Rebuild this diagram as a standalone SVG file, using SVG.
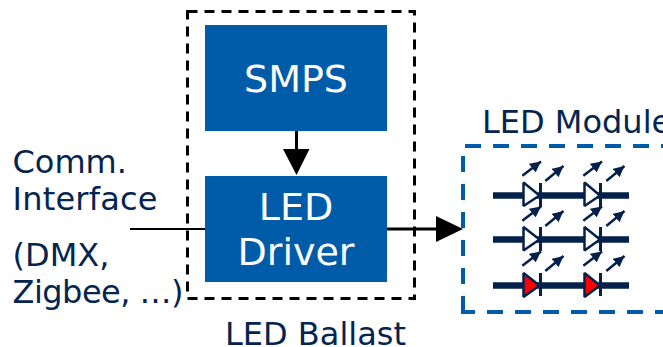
<svg xmlns="http://www.w3.org/2000/svg" width="663" height="347" viewBox="0 0 663 347">
<style>
text{font-family:"DejaVu Sans",Verdana,sans-serif}
.lbl{fill:#04254f;font-size:32px}
.box{fill:#005ca9}
.in{fill:#fff;font-size:38px;text-anchor:middle}
.wire{stroke:#000;fill:none}
.bus{stroke:#04214c;stroke-width:6.500;fill:none}
.bar{stroke:#04214c;stroke-width:3;fill:none}
.tri{stroke:#04214c;stroke-width:2.500;stroke-linejoin:bevel}
.ray{stroke:#04214c;stroke-width:2.500;fill:none;marker-end:url(#ah)}
.bd{fill:none;stroke:#005ca9;stroke-width:4;stroke-dasharray:16 12}
</style>
<defs>
<marker id="ah" markerUnits="userSpaceOnUse" markerWidth="14" markerHeight="14" refX="11" refY="5.500" orient="auto"><path d="M0 0L11 5.500L0 11Z" fill="#04214c"/></marker>
<g id="rays"><path class="ray" d="M522.300 175.700L541 161.500"/><path class="ray" d="M545.300 181L563.500 166"/></g>
</defs>
<g id="connectors">
<path class="wire" stroke-width="2" d="M130 229H206"/>
<path class="wire" stroke-width="3" d="M296.500 130V152"/>
<path d="M283 149H309.500L296.500 175Z"/>
<path class="wire" stroke-width="3" d="M387 229H440"/>
<path d="M436 216L463 229L436 242Z"/>
</g>
<g id="ballast"><rect x="187.500" y="11.500" width="227" height="287" fill="none" stroke="#000" stroke-width="3" stroke-dasharray="10 7"/>
<text x="225" y="344.500" class="lbl">LED Ballast</text></g>
<g id="smps"><rect class="box" x="205" y="25" width="182" height="106"/><text class="in" x="296" y="92">SMPS</text></g>
<g id="driver"><rect class="box" x="205" y="176" width="182" height="106"/><text class="in" x="296" y="220">LED</text><text class="in" x="296" y="265">Driver</text></g>
<g id="comm"><text class="lbl" x="12.500" y="173">Comm.</text><text class="lbl" x="12.500" y="210" textLength="145">Interface</text><text class="lbl" x="12.500" y="266">(DMX,</text><text class="lbl" x="12.500" y="303" textLength="171">Zigbee, …)</text></g>
<g id="module"><path class="bd" d="M465 146H680M463 156V296"/><path class="bd" style="stroke-dasharray:none" d="M463 296V312H475"/><path class="bd" d="M487 312H680"/>
<text class="lbl" x="482" y="133">LED Module</text>
<path class="bus" d="M493 195.500H629M493 239.500H629M493 285.500H629"/>
<g id="r1"><path class="tri" fill="#fff" d="M523.500 182.500L539.500 195.500L523.500 206Z"/><path class="tri" fill="#fff" d="M584.500 182.500L600 195.500L584.500 206Z"/><path class="bar" d="M540.500 183V207M600.500 183V207"/></g>
<g id="r2"><path class="tri" fill="#fff" d="M523.500 227L539.500 239.500L523.500 250.500Z"/><path class="tri" fill="#fff" d="M584.500 227L600 239.500L584.500 250.500Z"/><path class="bar" d="M540.500 227V251M600.500 227V251"/></g>
<g id="r3"><path class="tri" fill="#f00" d="M523.500 273L539.500 285.500L523.500 297Z"/><path class="tri" fill="#f00" d="M584.500 273L600 285.500L584.500 297Z"/><path class="bar" d="M540.500 273V296M600.500 273V296"/></g>
<use href="#rays"/><use href="#rays" x="61"/><use href="#rays" y="45"/><use href="#rays" x="61" y="45"/><use href="#rays" y="90"/><use href="#rays" x="61" y="90"/>
</g>
</svg>
